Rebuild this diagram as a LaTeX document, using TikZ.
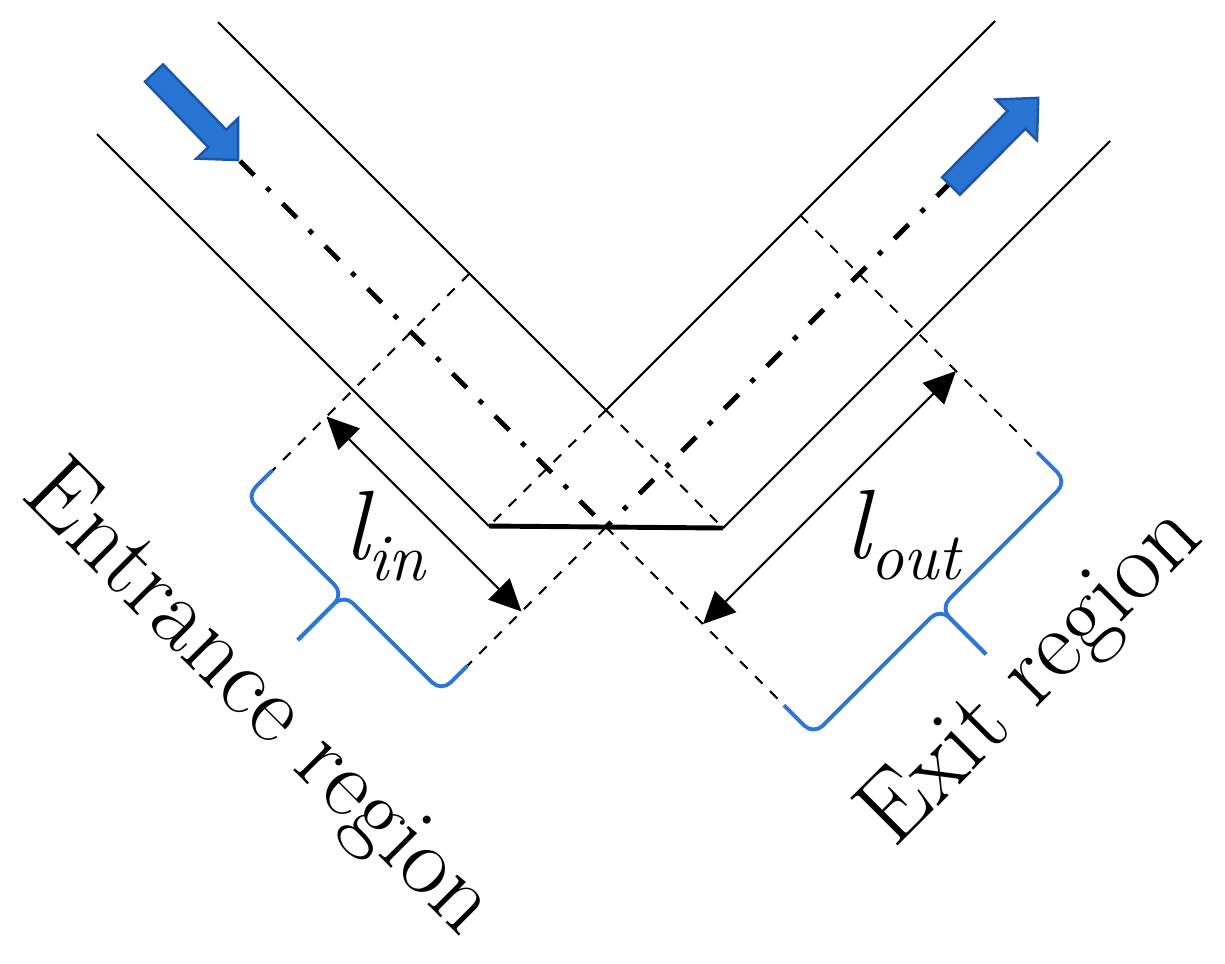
\documentclass[tikz,border=0pt]{standalone}
\usetikzlibrary{arrows.meta}
\definecolor{flowblue}{RGB}{40,116,210}
\definecolor{flowedge}{RGB}{28,86,170}
\definecolor{braceblue}{RGB}{46,118,214}

\begin{document}
\begin{tikzpicture}[
  wall/.style={line width=0.6pt},
  bound/.style={line width=0.6pt, dashed},
  axisline/.style={line width=1.4pt, dash pattern=on 5.7pt off 5pt on 1.4pt off 5pt},
  dim/.style={line width=0.6pt, {Triangle[length=0.32cm,width=0.30cm]}-{Triangle[length=0.32cm,width=0.30cm]}},
  regbrace/.style={braceblue, line width=1.1pt, rounded corners=0.13cm},
  flow/.style={fill=flowblue, draw=flowedge, line width=0.7pt},
  lbl/.style={font=\fontsize{28}{34}\selectfont, inner sep=0pt}
]

\useasboundingbox (0,0) rectangle (12.25,-9.63);

% pontos principais
\coordinate (BL) at (4.89,-5.26);
\coordinate (BR) at (7.23,-5.28);
\coordinate (X) at (6.06,-4.10);
\coordinate (C) at (6.06,-5.27);

% linhas de centro
\coordinate (LC0) at (2.40,-1.61);
\coordinate (RC0) at (9.51,-1.82);

% limites das regioes
\coordinate (EN0) at (4.695,-2.735);
\coordinate (EN1) at (2.725,-4.705);
\coordinate (EN2) at (4.675,-6.655);
\coordinate (EU0) at (8.005,-2.155);
\coordinate (EU1) at (10.37,-4.52);
\coordinate (EL) at (7.84,-7.05);

% cotas
\coordinate (LI1) at (3.265,-4.165);
\coordinate (LI2) at (5.215,-6.115);
\coordinate (LO1) at (9.56,-3.71);
\coordinate (LO2) at (7.03,-6.24);

% canal de entrada
\draw[wall] (BL) -- ++(-3.92,3.92);
\draw[wall] (X) -- ++(-3.88,3.88);

% canal de saida
\draw[wall] (X) -- ++(3.89,3.89);
\draw[wall] (BR) -- ++(3.87,3.87);

% fundo
\draw[line width=1.4pt] (BL) -- (BR);
\draw[bound] (X) -- (BR);
\draw[bound] (X) -- (BL);

% linhas de centro
\draw[axisline] (LC0) -- (C);
\draw[axisline] (RC0) -- (C);
\draw[bound] (C) -- (EL);
\draw[bound] (C) -- (EN2);

% limites
\draw[bound] (EN0) -- (EN1);
\draw[bound] (EU0) -- (EU1);

% cotas
\draw[dim] (LI1) -- (LI2);
\draw[dim] (LO1) -- (LO2);

% chave de entrada
\begin{scope}[shift={(EN2)}, rotate=135]
  \draw[regbrace] (0,0) -- (0,0.37) -- (1.38,0.37) -- (1.38,1.02);
  \draw[regbrace] (2.76,0) -- (2.76,0.37) -- (1.38,0.37) -- (1.38,1.02);
\end{scope}

% chave de saida
\begin{scope}[shift={(EU1)}, rotate=-135]
  \draw[regbrace] (0,0) -- (0,0.42) -- (1.79,0.42) -- (1.79,1.07);
  \draw[regbrace] (3.58,0) -- (3.58,0.42) -- (1.79,0.42) -- (1.79,1.07);
\end{scope}

% setas de fluxo
\filldraw[flow, shift={(1.54,-0.73)}, rotate=-46]
  (0,-0.125) -- (0.91,-0.125) -- (0.91,-0.29) -- (1.21,0)
  -- (0.91,0.29) -- (0.91,0.125) -- (0,0.125) -- cycle;
\filldraw[flow, shift={(9.51,-1.86)}, rotate=45.3]
  (0,-0.125) -- (0.93,-0.125) -- (0.93,-0.29) -- (1.24,0)
  -- (0.93,0.29) -- (0.93,0.125) -- (0,0.125) -- cycle;

% textos
\node[lbl, rotate=-45] (entr) at (2.57,-7.01) {Entrance region};
\node[lbl, rotate=45] (exit) at (10.33,-6.78) {Exit region};
\node[lbl] (lin) at (3.85,-5.36) {\itshape l\raisebox{-6pt}{\fontsize{19}{19}\selectfont in}};
\node[lbl] (lout) at (9.03,-5.35) {\itshape l\raisebox{-6pt}{\fontsize{19}{19}\selectfont out}};

\end{tikzpicture}
\end{document}
